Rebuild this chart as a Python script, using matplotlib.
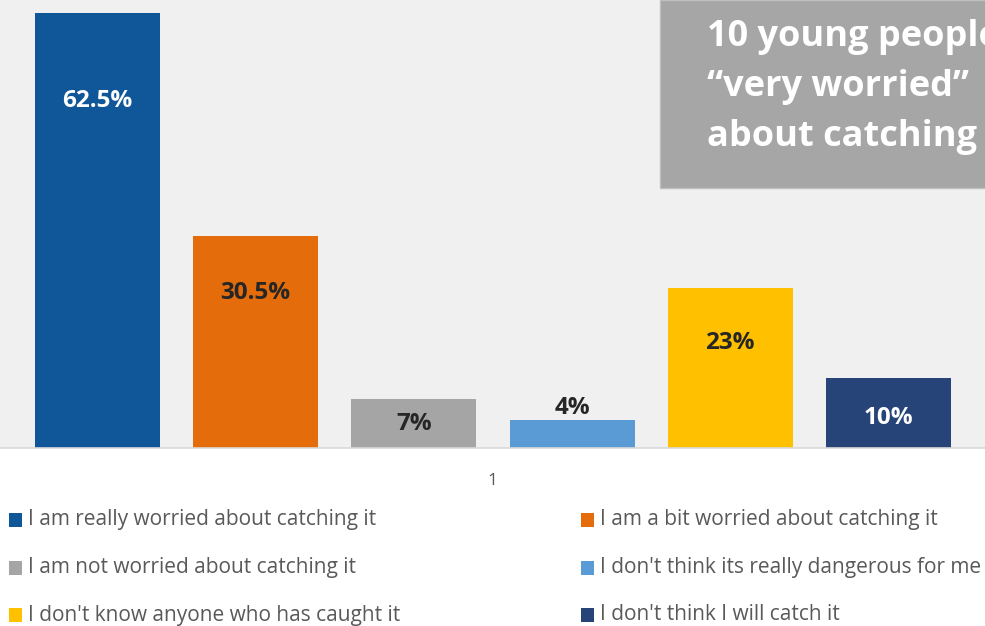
import matplotlib
matplotlib.use("Agg")
import matplotlib.pyplot as plt
from matplotlib.patches import Rectangle

plt.rcParams["font.family"] = ["Open Sans", "DejaVu Sans"]

W, H = 985, 626
categories = ["I am really worried about catching it",
              "I am a bit worried about catching it",
              "I am not worried about catching it",
              "I don't think its really dangerous for me",
              "I don't know anyone who has caught it",
              "I don't think I will catch it"]
values = [62.5, 30.5, 7, 4, 23, 10]
labels = ["62.5%", "30.5%", "7%", "4%", "23%", "10%"]
colors = ["#0F5799", "#E46C0A", "#A5A5A5", "#5B9BD5", "#FFC000", "#264478"]
label_colors = ["white", "#262626", "#262626", "#262626", "#262626", "white"]
label_offsets = [-88, -57, -25, 12, -55, -40]   # px from bar top
BG = "#F0F0F0"

fig = plt.figure(figsize=(W / 100, H / 100), dpi=100)
ax = fig.add_axes([0, 1 - 448 / H, 1, 448 / H])
ax.set_facecolor(BG)

x = list(range(len(values)))
bars = ax.bar(x, values, width=0.79, color=colors, zorder=2)
ax.set_xlim(-0.616, 5.61)
ax.set_ylim(0, 64.4)
for s in ["top", "left", "right"]:
    ax.spines[s].set_visible(False)
ax.spines["bottom"].set_color("#D9D9D9")
ax.spines["bottom"].set_linewidth(1.2)
ax.set_xticks([]); ax.set_yticks([])

for b, v, lab, c, off in zip(bars, values, labels, label_colors, label_offsets):
    ax.annotate(lab, (b.get_x() + b.get_width() / 2, v), xytext=(0, off * 0.72),
                textcoords="offset points", ha="center", va="center",
                fontsize=17.5, fontweight="bold", color=c, zorder=3)

# category tick "1"
fig.text(492 / W, 1 - 481 / H, "1", ha="center", va="center", fontsize=12.5, color="#595959")

# callout box (text runs past the right edge, as in the source slide)
fig.patches.append(Rectangle((660 / W, 1 - 188 / H), 400 / W, 188 / H, transform=fig.transFigure,
                             facecolor="#A6A6A6", edgecolor="#BFBFBF", lw=1, zorder=5))
fig.text(707 / W, 1 - 87 / H, "10 young people\n\u201cvery worried\u201d\nabout catching it",
         ha="left", va="center", fontsize=26, fontweight="bold", color="white",
         linespacing=1.53, zorder=6)

# legend (two columns, row-major)
col_x = [9, 581]
row_y = [520, 568, 615]
for i, (cat, c) in enumerate(zip(categories, colors)):
    lx, ly = col_x[i % 2], row_y[i // 2]
    fig.patches.append(Rectangle((lx / W, 1 - (ly + 7) / H), 13 / W, 14 / H,
                                 transform=fig.transFigure, facecolor=c, edgecolor="none"))
    fig.text((lx + 19) / W, 1 - ly / H, cat, ha="left", va="center", fontsize=15, color="#595959")

fig.savefig("out.png", dpi=100, facecolor="white")
